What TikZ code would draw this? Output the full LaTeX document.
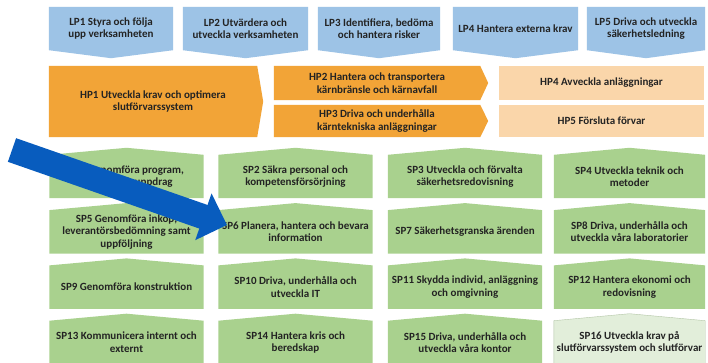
\documentclass[tikz,border=0pt]{standalone}
\usepackage{fontspec}
\setmainfont{Carlito}
\usetikzlibrary{arrows.meta,backgrounds}

\definecolor{lpblue}{RGB}{157,195,230}
\definecolor{hporange}{RGB}{242,164,55}
\definecolor{hppeach}{RGB}{250,214,170}
\definecolor{spgreen}{RGB}{169,209,142}
\definecolor{splight}{RGB}{226,238,218}
\definecolor{spedge}{RGB}{178,198,166}
\definecolor{arrowblue}{RGB}{8,92,190}
\definecolor{boxtext}{RGB}{35,35,35}
\tikzset{
  box/.style={rectangle,inner sep=0pt,align=center,text=boxtext,
    font={\fontsize{11}{12.5}\selectfont\bfseries}},
  lp/.style={box,minimum height=43pt},
  hp/.style={box,minimum width=206pt},
  sp/.style={box,minimum width=154pt,minimum height=43pt},
  bigarrow/.style={arrowblue,line width=25pt,-{Triangle[length=25pt,width=48pt]}},
}

\begin{document}
\begin{tikzpicture}[x=1pt,y=-1pt]
  \useasboundingbox (0,0) rectangle (708,363);
  % ledningsprocesser
  \node[lp,minimum width=124pt] (lp1) at (111,28.5) {LP1 Styra och följa\\upp verksamheten};
  \node[lp,minimum width=125pt] (lp2) at (245.5,28.5) {LP2 Utvärdera och\\utveckla verksamheten};
  \node[lp,minimum width=122pt] (lp3) at (379,28.5) {LP3 Identifiera, bedöma\\och hantera risker};
  \node[lp,minimum width=125pt] (lp4) at (515.5,28.5) {LP4 Hantera externa krav};
  \node[lp,minimum width=118pt] (lp5) at (646,28.5) {LP5 Driva och utveckla\\säkerhetsledning};
  % huvudprocesser
  \node[hp,minimum width=208pt,minimum height=71pt] (hp1) at (153,101.5) {HP1 Utveckla krav och optimera\\slutförvarssystem};
  \node[hp,minimum height=34pt] (hp2) at (377,83) {HP2 Hantera och transportera\\kärnbränsle och kärnavfall};
  \node[hp,minimum height=32pt] (hp3) at (377,121) {HP3 Driva och underhålla\\kärntekniska anläggningar};
  \node[hp,fill=hppeach,minimum width=205pt,minimum height=34pt] (hp4) at (601.5,83) {HP4 Avveckla anläggningar};
  \node[hp,fill=hppeach,minimum width=205pt,minimum height=32pt] (hp5) at (601.5,121) {HP5 Försluta förvar};
  % stödprocesser
  \node[sp] (sp1) at (126.5,176.5) {SP1 Genomföra program,\\projekt och uppdrag};
  \node[sp] (sp2) at (295.5,176.5) {SP2 Säkra personal och\\kompetensförsörjning};
  \node[sp] (sp3) at (465,176.5) {SP3 Utveckla och förvalta\\säkerhetsredovisning};
  \node[sp,minimum width=151pt] (sp4) at (629.5,176.5) {SP4 Utveckla teknik och\\metoder};
  \node[sp] (sp5) at (126.5,231.8) {SP5 Genomföra inköp,\\leverantörsbedömning samt\\uppföljning};
  \node[sp] (sp6) at (295.5,231.8) {SP6 Planera, hantera och bevara\\information};
  \node[sp] (sp7) at (465,231.8) {SP7 Säkerhetsgranska ärenden};
  \node[sp,minimum width=151pt] (sp8) at (629.5,231.8) {SP8 Driva, underhålla och\\utveckla våra laboratorier};
  \node[sp] (sp9) at (126.5,287.1) {SP9 Genomföra konstruktion};
  \node[sp] (sp10) at (295.5,287.1) {SP10 Driva, underhålla och\\utveckla IT};
  \node[sp] (sp11) at (465,287.1) {SP11 Skydda individ, anläggning\\och omgivning};
  \node[sp,minimum width=151pt] (sp12) at (629.5,287.1) {SP12 Hantera ekonomi och\\redovisning};
  \node[sp] (sp13) at (126.5,342.4) {SP13 Kommunicera internt och\\externt};
  \node[sp] (sp14) at (295.5,342.4) {SP14 Hantera kris och\\beredskap};
  \node[sp] (sp15) at (465,342.4) {SP15 Driva, underhålla och\\utveckla våra kontor};
  \node[sp,minimum width=151pt] (sp16) at (629.5,342.4) {SP16 Utveckla krav på\\slutförvarssystem och slutförvar};
  % formerna bakom texterna
  \begin{scope}[on background layer]
    \fill[white] (0,0) rectangle (708,363);
    \foreach \n in {lp1,lp2,lp3,lp4,lp5}
      \fill[lpblue] (\n.north west) -- (\n.north east) -- (\n.south east)
        -- ([yshift=-8pt]\n.south) -- (\n.south west) -- cycle;
    \fill[hporange] (hp1.north west) -- (hp1.north east) -- ([xshift=6pt]hp1.east)
      -- (hp1.south east) -- (hp1.south west) -- cycle;
    \foreach \n in {hp2,hp3}
      \fill[hporange] (\n.north west) -- (\n.north east) -- ([xshift=8pt]\n.east)
        -- (\n.south east) -- (\n.south west) -- cycle;
    \foreach \i in {1,...,15}
      \fill[spgreen] (sp\i.south west) -- (sp\i.north west) -- ([yshift=7pt]sp\i.north)
        -- (sp\i.north east) -- (sp\i.south east) -- cycle;
    \filldraw[fill=splight,draw=spedge] (sp16.south west) -- (sp16.north west)
      -- ([yshift=7pt]sp16.north) -- (sp16.north east) -- (sp16.south east) -- cycle;
  \end{scope}
  % pilen
  \coordinate (tail) at (12,150);
  \coordinate (tip) at (227,225);
  \draw[bigarrow] (tail) -- (tip);
\end{tikzpicture}
\end{document}
